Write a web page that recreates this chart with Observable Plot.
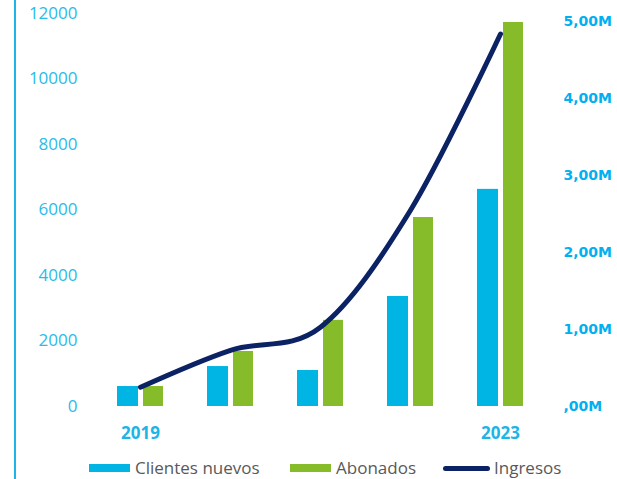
<!DOCTYPE html>
<html>
<head>
<meta charset="utf-8">
<script src="https://cdn.jsdelivr.net/npm/d3@7"></script>
<script src="https://cdn.jsdelivr.net/npm/@observablehq/plot@0.6"></script>
<style>
  body { margin: 0; background: #fff; }
  #wrap { position: relative; width: 617px; height: 479px; overflow: hidden; background: #fff; }
  #vline { position: absolute; left: 14px; top: 0; width: 2px; height: 479px; background: #1DB4E6; }
  #legend { position: absolute; left: 0; top: 456px; width: 617px; height: 24px; font-family: "Open Sans"; font-size: 17px; color: #595959; }
  .item { position: absolute; top: 0; height: 24px; line-height: 24px; display: flex; align-items: center; white-space: nowrap; }
  .sw { display: inline-block; width: 41px; height: 8px; margin-right: 5px; }
  .ln { display: inline-block; width: 47px; height: 5px; border-radius: 3px; margin-right: 4px; }
</style>
</head>
<body>
<div id="wrap">
  <div id="chart"></div>
  <div id="vline"></div>
  <div id="legend"></div>
</div>
<script>
const years = [2019, 2020, 2021, 2022, 2023];
const clientesNuevos = [610, 1220, 1100, 3360, 6630];
const abonados = [610, 1680, 2630, 5770, 11725];
const ingresosM = [0.25, 0.73, 1.03, 2.55, 4.84]; // millones
const leftTicks = [0, 2000, 4000, 6000, 8000, 10000, 12000];
const rightTicks = [0, 1, 2, 3, 4, 5];
const yearTicks = [2019, 2023];
const seriesNames = ["Clientes nuevos", "Abonados", "Ingresos"];
const colors = ["#00B4E3", "#86BC29", "#0B2265"];

const K = 2350; // left-axis units per million (secondary axis)
const rows = years.map((y, i) => ({
  year: y,
  clientes: clientesNuevos[i],
  abonados: abonados[i],
  ingresos: ingresosM[i] * K
}));
const fmtM = v => (v === 0 ? ",00M" : v.toFixed(2).replace(".", ",") + "M");

const chart = Plot.plot({
  width: 617,
  height: 455,
  marginLeft: 95,
  marginRight: 72,
  marginTop: 13,
  marginBottom: 49,
  x: { type: "band", domain: years, padding: 0 },
  y: { domain: [0, 12000] },
  style: { fontFamily: "Open Sans", background: "white" },
  marks: [
    Plot.barY(rows, { x: "year", y: "clientes", fill: colors[0], insetLeft: 22, insetRight: 47 }),
    Plot.barY(rows, { x: "year", y: "abonados", fill: colors[1], insetLeft: 48, insetRight: 22 }),
    Plot.lineY(rows, { x: "year", y: "ingresos", stroke: colors[2], strokeWidth: 5, curve: "cardinal", strokeLinecap: "round" }),
    Plot.axisY({ ticks: leftTicks, tickSize: 0, tickPadding: 18, fontSize: 17, fill: "#2ABBE9", label: null, tickFormat: d => String(d) }),
    Plot.axisY({ anchor: "right", ticks: rightTicks.map(v => v * K), tickSize: 0, tickPadding: 18, fontSize: 14, fontFamily: "DejaVu Sans", fontWeight: "bold", fill: "#00B0F0", label: null, tickFormat: d => fmtM(Math.round(d / K)) }),
    Plot.axisX({ ticks: yearTicks, tickSize: 0, tickPadding: 20, fontSize: 17, fontWeight: "bold", fill: "#1CB5E6", label: null, tickFormat: d => String(d) })
  ]
});
document.getElementById("chart").appendChild(chart);

const legend = document.getElementById("legend");
const lefts = [89, 290, 443];
seriesNames.forEach((name, i) => {
  const it = document.createElement("div");
  it.className = "item";
  it.style.left = lefts[i] + "px";
  const sw = document.createElement("span");
  sw.className = i === 2 ? "ln" : "sw";
  sw.style.background = colors[i];
  it.appendChild(sw);
  it.appendChild(document.createTextNode(name));
  legend.appendChild(it);
});
</script>
</body>
</html>
